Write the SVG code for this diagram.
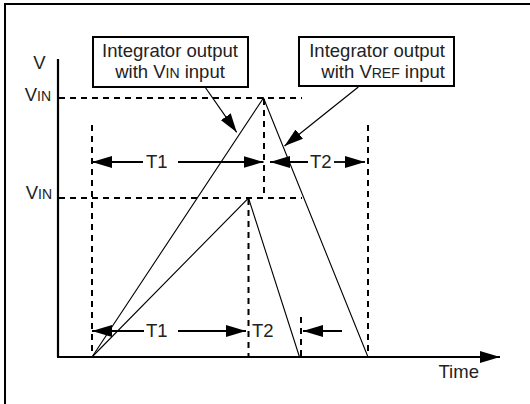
<svg xmlns="http://www.w3.org/2000/svg" width="530" height="404" viewBox="0 0 530 404">
<style>
text{font-family:"Liberation Sans",Arial,sans-serif;font-size:18.5px;fill:#222}
.sc{font-size:14px}
.box{fill:#fff;stroke:#000;stroke-width:2}
.dash{fill:none;stroke:#000;stroke-width:2;stroke-dasharray:6 5}
.ax{fill:none;stroke:#000;stroke-width:2.2}
.wave{fill:none;stroke:#000;stroke-width:1.1}
.dim{fill:none;stroke:#000;stroke-width:1.8;marker-end:url(#ah)}
.ptr{fill:none;stroke:#000;stroke-width:1.2;marker-end:url(#ph)}
</style>
<defs>
<marker id="ah" markerUnits="userSpaceOnUse" markerWidth="20" markerHeight="12" refX="20" refY="6" orient="auto"><path d="M0,0 L20,6 L0,12 z" fill="#000"/></marker>
<marker id="ph" markerUnits="userSpaceOnUse" markerWidth="19" markerHeight="12" refX="19" refY="6" orient="auto"><path d="M0,0 L19,6 L0,12 z" fill="#000"/></marker>
<marker id="xh" markerUnits="userSpaceOnUse" markerWidth="20" markerHeight="12" refX="20" refY="6" orient="auto"><path d="M0,0 L20,6 L0,12 z" fill="#000"/></marker>
</defs>
<rect width="530" height="404" fill="#fff"/>
<g id="frame"><path d="M5,404 V4 H530" fill="none" stroke="#000" stroke-width="2"/></g>
<g id="axes">
<line class="ax" x1="58" y1="59" x2="58" y2="357"/>
<line class="ax" x1="57" y1="357" x2="500" y2="357" marker-end="url(#xh)"/>
<text x="39.5" y="69" text-anchor="middle">V</text>
<text x="51" y="101" text-anchor="end">V<tspan class="sc">IN</tspan></text>
<text x="52" y="199" text-anchor="end">V<tspan class="sc">IN</tspan></text>
<text x="438.5" y="377.5">Time</text>
</g>
<g id="guides">
<line class="dash" x1="59" y1="98" x2="302" y2="98"/>
<line class="dash" x1="59" y1="198" x2="302" y2="198"/>
<line class="dash" x1="92" y1="125" x2="92" y2="357"/>
<line class="dash" x1="264" y1="99" x2="264" y2="198"/>
<line class="dash" x1="248.5" y1="199" x2="248.5" y2="357"/>
<line class="dash" x1="368" y1="125" x2="368" y2="357"/>
<line class="dash" x1="301" y1="317" x2="301" y2="357"/>
</g>
<g id="waveforms">
<polyline class="wave" points="92,357 263.5,98 368,357"/>
<polyline class="wave" points="92,357 248.5,198 299.5,357"/>
</g>
<g id="dimensions">
<line class="dim" x1="143" y1="162" x2="92" y2="162"/>
<line class="dim" x1="178" y1="162" x2="263.5" y2="162"/>
<text x="146" y="168">T1</text>
<line class="dim" x1="308" y1="162" x2="270" y2="162"/>
<line class="dim" x1="334" y1="162" x2="365" y2="162"/>
<text x="310" y="168">T2</text>
<line class="dim" x1="144" y1="331" x2="92" y2="331"/>
<line class="dim" x1="178" y1="331" x2="246" y2="331"/>
<text x="146" y="337">T1</text>
<text x="252" y="337">T2</text>
<line class="dim" x1="342" y1="331" x2="303" y2="331"/>
</g>
<g id="box-vin">
<rect class="box" x="93" y="37" width="155" height="50"/>
<text x="170" y="57" text-anchor="middle">Integrator output</text>
<text x="170" y="77.5" text-anchor="middle">with V<tspan class="sc">IN</tspan> input</text>
</g>
<g id="box-vref">
<rect class="box" x="299" y="37" width="155" height="49"/>
<text x="445" y="57" text-anchor="end">Integrator output</text>
<text x="445" y="77.5" text-anchor="end">with V<tspan class="sc">REF</tspan> input</text>
</g>
<g id="connectors">
<line class="ptr" x1="205" y1="87" x2="236.7" y2="132.3"/>
<line class="ptr" x1="358.3" y1="87" x2="284.5" y2="146"/>
</g>
</svg>
